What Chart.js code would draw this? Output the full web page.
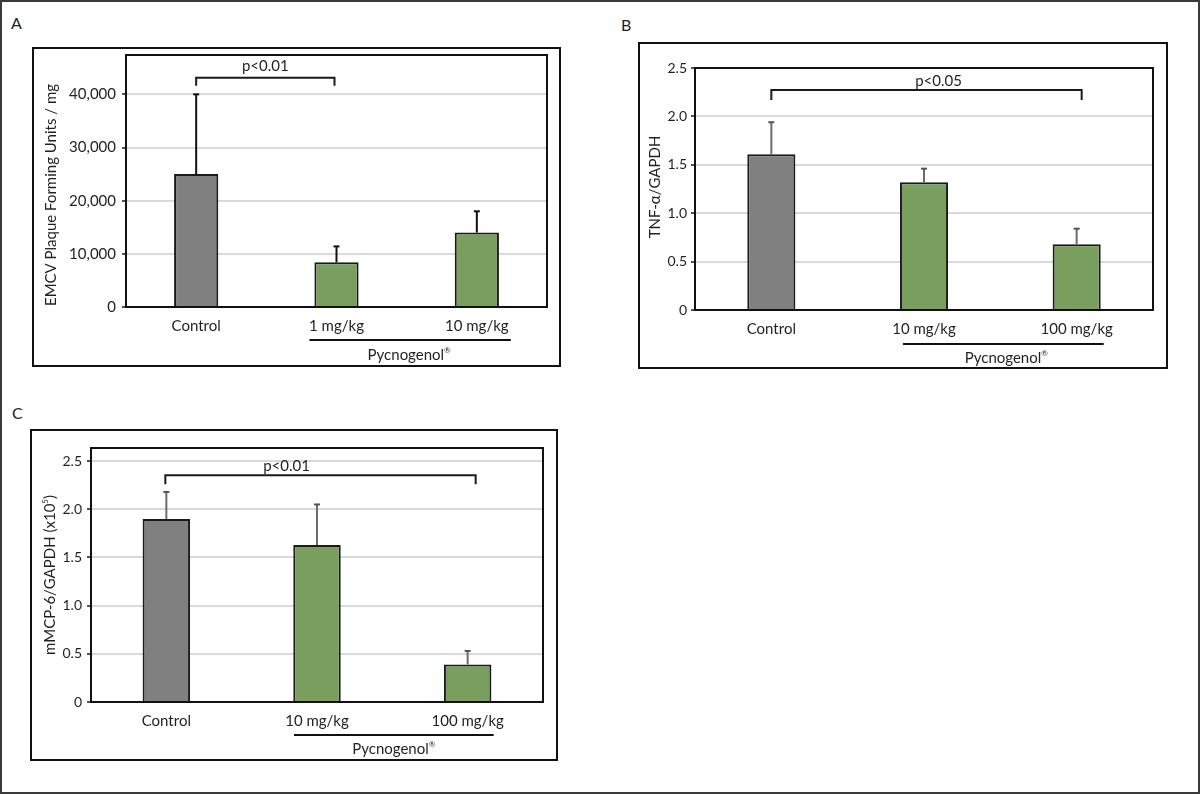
<!DOCTYPE html>
<html><head><meta charset="utf-8">
<script src="https://cdn.jsdelivr.net/npm/chart.js@4.4.1/dist/chart.umd.min.js"></script>
<style>
html,body{margin:0;padding:0;background:#fff;}
body{width:1200px;height:794px;position:relative;overflow:hidden;font-family:Lato,"Open Sans",sans-serif;color:#231f20;}
#frame{position:absolute;left:0;top:0;width:1200px;height:794px;box-sizing:border-box;border:2px solid #3a3a3a;}
.box{position:absolute;box-sizing:border-box;border:2px solid #111;}
.cv{position:absolute;}
.letter{position:absolute;font-size:16px;line-height:16px;font-family:Lato,sans-serif;color:#231f20;}
</style></head><body>
<div id="frame"></div>
<div class="letter" style="left:11px;top:15px">A</div>
<div class="letter" style="left:621px;top:17px">B</div>
<div class="letter" style="left:12px;top:405px">C</div>

<div class="box" style="left:32px;top:47px;width:529px;height:320px"></div>
<canvas id="cA" class="cv" width="529" height="320" style="left:32px;top:47px;width:529px;height:320px"></canvas>
<div class="box" style="left:638px;top:42px;width:530px;height:327px"></div>
<canvas id="cB" class="cv" width="530" height="327" style="left:638px;top:42px;width:530px;height:327px"></canvas>
<div class="box" style="left:30px;top:429px;width:528px;height:332px"></div>
<canvas id="cC" class="cv" width="528" height="332" style="left:30px;top:429px;width:528px;height:332px"></canvas>

<script>
// ---------- data ----------
const categoriesA = ['Control', '1 mg/kg', '10 mg/kg'];
const valuesA = [25000, 8400, 14000];
const errorsA = [15000, 3000, 4000];
const yTicksA = [0, 10000, 20000, 30000, 40000];
const yTickLabelsA = ['0', '10,000', '20,000', '30,000', '40,000'];

const categoriesB = ['Control', '10 mg/kg', '100 mg/kg'];
const valuesB = [1.61, 1.32, 0.68];
const errorsB = [0.33, 0.14, 0.16];
const yTicksB = [0, 0.5, 1.0, 1.5, 2.0, 2.5];
const yTickLabelsB = ['0', '0.5', '1.0', '1.5', '2.0', '2.5'];

const categoriesC = ['Control', '10 mg/kg', '100 mg/kg'];
const valuesC = [1.90, 1.63, 0.39];
const errorsC = [0.28, 0.42, 0.14];
const yTicksC = [0, 0.5, 1.0, 1.5, 2.0, 2.5];
const yTickLabelsC = ['0', '0.5', '1.0', '1.5', '2.0', '2.5'];

const barColors = ['#808080', '#7a9e5d', '#7a9e5d'];
const TXT = '#231f20';
const FONT = 'Lato, "Open Sans", sans-serif';

function drawRich(ctx, parts, size) {
  let total = 0;
  const widths = parts.map(p => {
    ctx.font = (p.sup ? Math.round(size * 0.55) : size) + 'px ' + FONT;
    const w = ctx.measureText(p.t).width;
    total += w;
    return w;
  });
  let x = -total / 2;
  parts.forEach((p, i) => {
    ctx.font = (p.sup ? Math.round(size * 0.55) : size) + 'px ' + FONT;
    ctx.textAlign = 'left';
    ctx.textBaseline = 'middle';
    ctx.fillText(p.t, x, p.sup ? -size * 0.32 : 0);
    x += widths[i];
  });
}

const decoPlugin = {
  id: 'deco',
  afterDraw(chart, args, o) {
    const ctx = chart.ctx;
    const xs = chart.scales.x, ys = chart.scales.y;
    const ca = chart.chartArea;
    const meta = chart.getDatasetMeta(0);
    ctx.save();
    // error bars (upper only)
    meta.data.forEach((el, i) => {
      const top = ys.getPixelForValue(o.values[i] + o.errors[i]);
      ctx.strokeStyle = o.errColor;
      ctx.lineWidth = o.errWidth;
      ctx.beginPath();
      ctx.moveTo(el.x, el.y);
      ctx.lineTo(el.x, top);
      ctx.stroke();
      ctx.strokeStyle = o.capColor;
      ctx.lineWidth = 2;
      ctx.beginPath();
      ctx.moveTo(el.x - o.capW / 2, top);
      ctx.lineTo(el.x + o.capW / 2, top);
      ctx.stroke();
    });
    // plot frame
    ctx.strokeStyle = '#111';
    ctx.lineWidth = 2;
    ctx.strokeRect(ca.left, ca.top, ca.right - ca.left, ca.bottom - ca.top);
    // significance bracket
    const b = o.bracket;
    const bx1 = xs.getPixelForValue(b.from) + b.dx1;
    const bx2 = xs.getPixelForValue(b.to) + b.dx2;
    const by = ys.getPixelForValue(b.value);
    ctx.strokeStyle = '#1a1a1a';
    ctx.lineWidth = 2;
    ctx.beginPath();
    ctx.moveTo(bx1, by + b.leg);
    ctx.lineTo(bx1, by);
    ctx.lineTo(bx2, by);
    ctx.lineTo(bx2, by + b.leg);
    ctx.stroke();
    ctx.fillStyle = TXT;
    ctx.font = '15px ' + FONT;
    ctx.textAlign = 'center';
    ctx.textBaseline = 'middle';
    ctx.fillText(b.text, (bx1 + bx2) / 2 + b.textDx, by - b.textGap);
    // Pycnogenol group line
    const g = o.group;
    const gx1 = xs.getPixelForValue(g.from) - g.extL;
    const gx2 = xs.getPixelForValue(g.to) + g.extR;
    const gy = ca.bottom + g.lineDy;
    ctx.strokeStyle = '#111';
    ctx.lineWidth = 2;
    ctx.beginPath();
    ctx.moveTo(gx1, gy);
    ctx.lineTo(gx2, gy);
    ctx.stroke();
    ctx.save();
    ctx.translate((gx1 + gx2) / 2 + g.textDx, ca.bottom + g.textDy);
    drawRich(ctx, [{t: 'Pycnogenol'}, {t: '®', sup: true}], 15);
    ctx.restore();
    // y title
    const yt = o.yTitle;
    ctx.save();
    ctx.translate(yt.x, yt.y);
    ctx.rotate(-Math.PI / 2);
    ctx.fillStyle = TXT;
    drawRich(ctx, yt.parts, 15);
    ctx.restore();
    ctx.restore();
  }
};

function makeChart(id, p) {
  return new Chart(document.getElementById(id), {
    type: 'bar',
    data: {
      labels: p.labels,
      datasets: [{
        data: p.values,
        backgroundColor: barColors,
        borderColor: '#1a1a1a',
        borderWidth: 2,
        borderSkipped: 'start',
        barPercentage: 0.315,
        categoryPercentage: 1
      }]
    },
    options: {
      responsive: false,
      animation: false,
      devicePixelRatio: 1,
      layout: {padding: {top: p.pad.top, right: p.pad.right, left: 0, bottom: 0}},
      plugins: {
        legend: {display: false},
        tooltip: {enabled: false},
        deco: p.deco
      },
      scales: {
        x: {
          grid: {display: false, drawTicks: false},
          border: {display: false},
          ticks: {padding: 10, color: TXT, font: {family: FONT, size: 15}},
          afterFit: s => { s.height = p.pad.bottom; s.paddingLeft = 0; s.paddingRight = 0; }
        },
        y: {
          min: 0,
          max: p.max,
          bounds: 'data',
          afterBuildTicks: s => { s.ticks = p.ticks.map(v => ({value: v})); },
          ticks: {
            padding: p.tickPad,
            color: TXT,
            font: {family: FONT, size: p.tickSize},
            callback: v => { const i = p.ticks.indexOf(v); return i >= 0 ? p.tickLabels[i] : ''; }
          },
          grid: {color: '#d9d9d9', lineWidth: 2, tickColor: '#1a1a1a', tickLength: 4, tickWidth: 1.5},
          border: {display: false},
          afterFit: s => { s.width = p.pad.left; s.paddingTop = 0; s.paddingBottom = 0; }
        }
      }
    },
    plugins: [decoPlugin]
  });
}

makeChart('cA', {
  labels: categoriesA, values: valuesA, ticks: yTicksA, tickLabels: yTickLabelsA,
  max: 47400, tickPad: 6, tickSize: 15,
  pad: {left: 94, top: 8, right: 14, bottom: 60},
  deco: {
    values: valuesA, errors: errorsA, errColor: '#111', errWidth: 2, capColor: '#111', capW: 6,
    bracket: {from: 0, to: 1, dx1: 0, dx2: -2, value: 43100, leg: 8, text: 'p<0.01', textDx: 0, textGap: 12},
    group: {from: 1, to: 2, extL: 27, extR: 34, lineDy: 33, textDy: 48, textDx: -1},
    yTitle: {x: 19, y: 148, parts: [{t: 'EMCV Plaque Forming Units / mg'}]}
  }
});

makeChart('cB', {
  labels: categoriesB, values: valuesB, ticks: yTicksB, tickLabels: yTickLabelsB,
  max: 2.5, tickPad: 4, tickSize: 14,
  pad: {left: 57, top: 26, right: 15, bottom: 59},
  deco: {
    values: valuesB, errors: errorsB, errColor: '#6b6b6b', errWidth: 2, capColor: '#555', capW: 6,
    bracket: {from: 0, to: 2, dx1: 0, dx2: 5, value: 2.274, leg: 10, text: 'p<0.05', textDx: 12, textGap: 9},
    group: {from: 1, to: 2, extL: 21, extR: 27, lineDy: 34, textDy: 48, textDx: 3},
    yTitle: {x: 17.5, y: 145, parts: [{t: 'TNF-α/GAPDH'}]}
  }
});

makeChart('cC', {
  labels: categoriesC, values: valuesC, ticks: yTicksC, tickLabels: yTickLabelsC,
  max: 2.636, tickPad: 5, tickSize: 14,
  pad: {left: 61, top: 19, right: 15, bottom: 59},
  deco: {
    values: valuesC, errors: errorsC, errColor: '#6b6b6b', errWidth: 2, capColor: '#555', capW: 6,
    bracket: {from: 0, to: 2, dx1: -1, dx2: 8, value: 2.353, leg: 9, text: 'p<0.01', textDx: -34, textGap: 9},
    group: {from: 1, to: 2, extL: 23, extR: 26, lineDy: 33, textDy: 47, textDx: 0},
    yTitle: {x: 20, y: 146, parts: [{t: 'mMCP-6/GAPDH (x10'}, {t: '5', sup: true}, {t: ')'}]}
  }
});
</script>
</body></html>
